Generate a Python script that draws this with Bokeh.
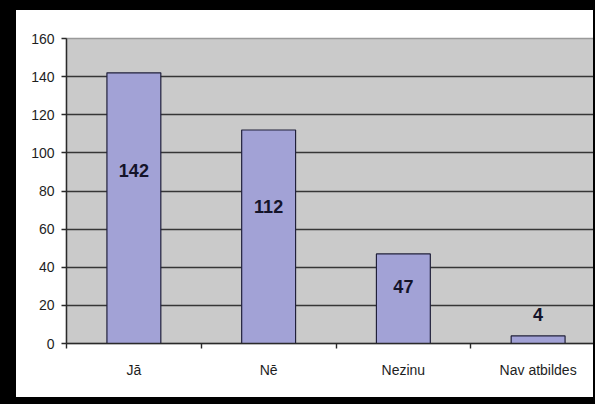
from bokeh.plotting import figure
from bokeh.models import Range1d, FixedTicker
from bokeh.core.properties import value
from bokeh.embed import file_html
from bokeh.resources import INLINE

categories = ["Jā", "Nē", "Nezinu", "Nav atbildes"]
counts = [142, 112, 47, 4]
y_ticks = [0, 20, 40, 60, 80, 100, 120, 140, 160]

xs = [i + 0.5 for i in range(len(categories))]
label_y = [v * 0.64 if v > 10 else v + 11 for v in counts]
label_txt = [str(v) for v in counts]

FONT = "Liberation Sans"

p = figure(width=595, height=404, output_backend="svg", toolbar_location=None,
           x_range=Range1d(0, len(categories)), y_range=Range1d(0, 160),
           min_border_left=50, min_border_right=6, min_border_top=28, min_border_bottom=71,
           background_fill_color="#cacaca", border_fill_color="white")
p.styles = {"border-style": "solid", "border-color": "black",
            "border-width": "10px 2px 7px 16px", "box-sizing": "border-box"}

p.outline_line_color = "#9a9a9a"
p.outline_line_width = 1.5

p.vbar(x=xs, top=counts, width=0.4, bottom=0, fill_color="#a2a2d6",
       line_color="#20203a", line_width=1.2)

p.text(x=xs, y=label_y, text=label_txt, text_font=value(FONT),
       text_font_size="18px", text_font_style="bold", text_color="#14142a",
       text_align="center", text_baseline="middle")

# grid
p.xgrid.visible = False
p.ygrid.ticker = FixedTicker(ticks=y_ticks[1:-1])
p.ygrid.grid_line_color = "#363636"
p.ygrid.grid_line_width = 1.4

# y axis
ya = p.yaxis[0]
ya.ticker = FixedTicker(ticks=y_ticks)
ya.axis_line_color = "#2a2a2a"
ya.axis_line_width = 1.4
ya.major_tick_line_color = "#2a2a2a"
ya.major_tick_line_width = 1.4
ya.major_tick_out = 5
ya.major_tick_in = 0
ya.minor_tick_line_color = None
ya.major_label_text_font = FONT
ya.major_label_text_font_size = "14px"
ya.major_label_text_color = "#1e1e1e"
ya.major_label_standoff = 7

# x axis
xa = p.xaxis[0]
xa.ticker = FixedTicker(ticks=xs, minor_ticks=list(range(len(categories) + 1)))
xa.major_label_overrides = {x: c for x, c in zip(xs, categories)}
xa.axis_line_color = "#2a2a2a"
xa.axis_line_width = 1.4
xa.major_tick_line_color = None
xa.minor_tick_line_color = "#2a2a2a"
xa.minor_tick_line_width = 1.4
xa.minor_tick_out = 5
xa.minor_tick_in = 0
xa.major_label_text_font = FONT
xa.major_label_text_font_size = "14px"
xa.major_label_text_color = "#1e1e1e"
xa.major_label_standoff = 12

open("out.html", "w").write(file_html(p, INLINE))
